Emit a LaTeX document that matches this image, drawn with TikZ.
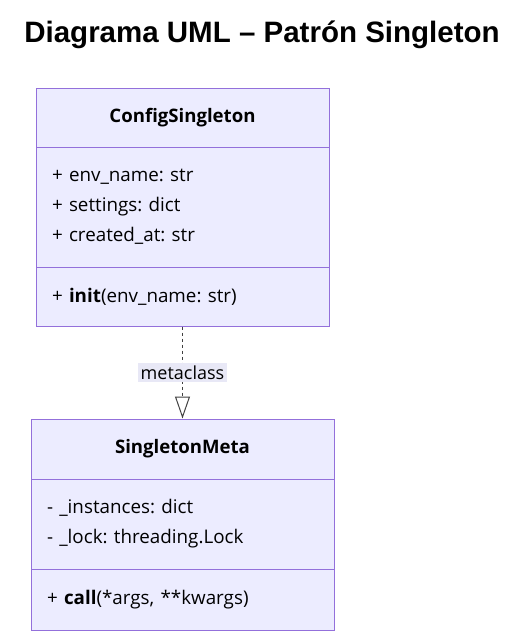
\documentclass[tikz,border=0pt]{standalone}
\usepackage{fontspec}
\setmainfont{Open Sans}
\newfontfamily\titlefont{Liberation Sans}
\usetikzlibrary{arrows.meta}
\definecolor{umlfill}{HTML}{ECECFF}
\definecolor{umlline}{HTML}{9370DB}
\definecolor{lblfill}{HTML}{E8E8F6}
\frenchspacing
\tikzset{
  umlbox/.style={draw=umlline, fill=umlfill, line width=1pt, rectangle, inner sep=0pt,
                 font=\fontsize{18.8}{30}\selectfont},
  umlhead/.style={umlbox, minimum height=60pt, font=\fontsize{18.6}{22}\selectfont\bfseries},
  umlbody/.style={umlbox, align=left, inner xsep=16pt},
  metaedge/.style={draw=black!75, line width=1pt, dash pattern=on 3pt off 3pt}
}
\begin{document}
\begin{tikzpicture}[x=1pt, y=-1pt]
  \useasboundingbox (0,0) rectangle (510,640);
  \node [font=\titlefont\bfseries\fontsize{29.5}{32}\selectfont] (title) at (262,35) {Diagrama UML – Patrón Singleton};
  % ConfigSingleton
  \node [umlhead, minimum width=293pt] (config) at (182.5,118) {ConfigSingleton};
  \node [umlbody, minimum width=293pt, minimum height=120pt, text width=261pt] (configattr) at (182.5,207)
    {+ env\_name: str\\+ settings: dict\\+ created\_at: str};
  \node [umlbody, minimum width=293pt, minimum height=59pt, text width=261pt] (configops) at (182.5,296.5)
    {+ \textbf{init}(env\_name: str)};
  % SingletonMeta
  \node [umlhead, minimum width=303pt] (meta) at (182.5,449) {SingletonMeta};
  \node [umlbody, minimum width=303pt, minimum height=90pt, text width=271pt] (metaattr) at (182.5,524)
    {- \_instances: dict\\- \_lock: threading.Lock};
  \node [umlbody, minimum width=303pt, minimum height=61pt, text width=271pt] (metaops) at (182.5,599.5)
    {+ \textbf{call}(*args, **kwargs)};
  % metaclass
  \draw [metaedge, -{Triangle[open, length=22pt, width=15pt, line width=1pt]}] (configops.south) -- (meta.north)
    node [pos=0.5, fill=lblfill, inner sep=3pt, font=\fontsize{18}{22}\selectfont, solid] (lbl) {metaclass};
\end{tikzpicture}
\end{document}
